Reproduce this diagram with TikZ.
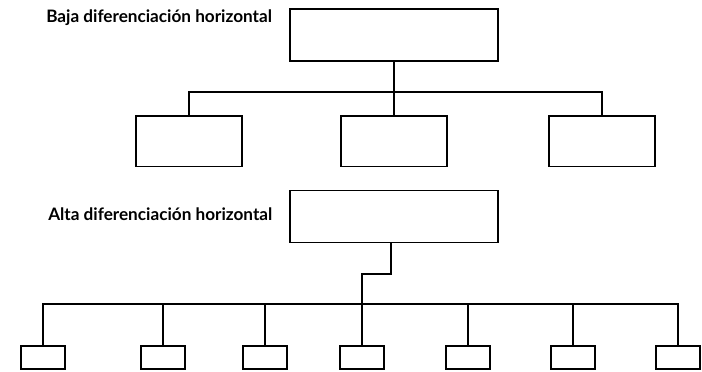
\documentclass[tikz,border=0pt]{standalone}
\usepackage{fontspec}
\newfontfamily\lblfont{Lato}
\usepackage{tikz}
\usetikzlibrary{positioning, calc}

\begin{document}
\begin{tikzpicture}[x=0.025cm, y=-0.025cm,
  unit/.style={rectangle, draw, line width=1.3pt, minimum width=5.2cm,
               minimum height=1.3cm, inner sep=0pt},
  sub/.style={rectangle, draw, line width=1.3pt, minimum width=2.65cm,
              minimum height=1.27cm, inner sep=0pt},
  small/.style={rectangle, draw, line width=1.3pt, minimum width=1.1cm,
                minimum height=0.58cm, inner sep=0pt},
  lbl/.style={font=\lblfont\fontsize{12.2}{14}\selectfont\bfseries, inner sep=0pt},
  ln/.style={line width=1.3pt}
]
\useasboundingbox (0,0) rectangle (702,371);
% low horizontal differentiation
\node[lbl, anchor=base west] (baja) at (46,22) {Baja diferenciación horizontal};
\node[unit] (top) at (394,35) {};
\foreach \n/\x in {a/189, b/394, c/602}{
  \node[sub] (s\n) at (\x,141) {};
}
\coordinate (bar1) at (394,92);
\draw[ln] (top.south) -- (sb.north);
\draw[ln] (sa.north) -- (sa.north |- bar1) -- (sc.north |- bar1) -- (sc.north);
% high horizontal differentiation
\node[lbl, anchor=base west] (alta) at (48,220) {Alta diferenciación horizontal};
\node[unit] (top2) at (394,216.5) {};
\foreach \i/\x in {1/43, 2/163, 3/265, 4/362, 5/468, 6/573, 7/678}{
  \node[small] (m\i) at (\x,357.5) {};
}
\coordinate (bend) at (391,274);
\coordinate (bar2) at (362,304);
\draw[ln] (top2.south -| bend) -- (bend) -- (bend -| m4.north) -- (m4.north);
\draw[ln] (m1.north) -- (m1.north |- bar2) -- (m7.north |- bar2) -- (m7.north);
\foreach \i in {2,3,5,6}{
  \draw[ln] (m\i.north) -- (m\i.north |- bar2);
}
\end{tikzpicture}
\end{document}
